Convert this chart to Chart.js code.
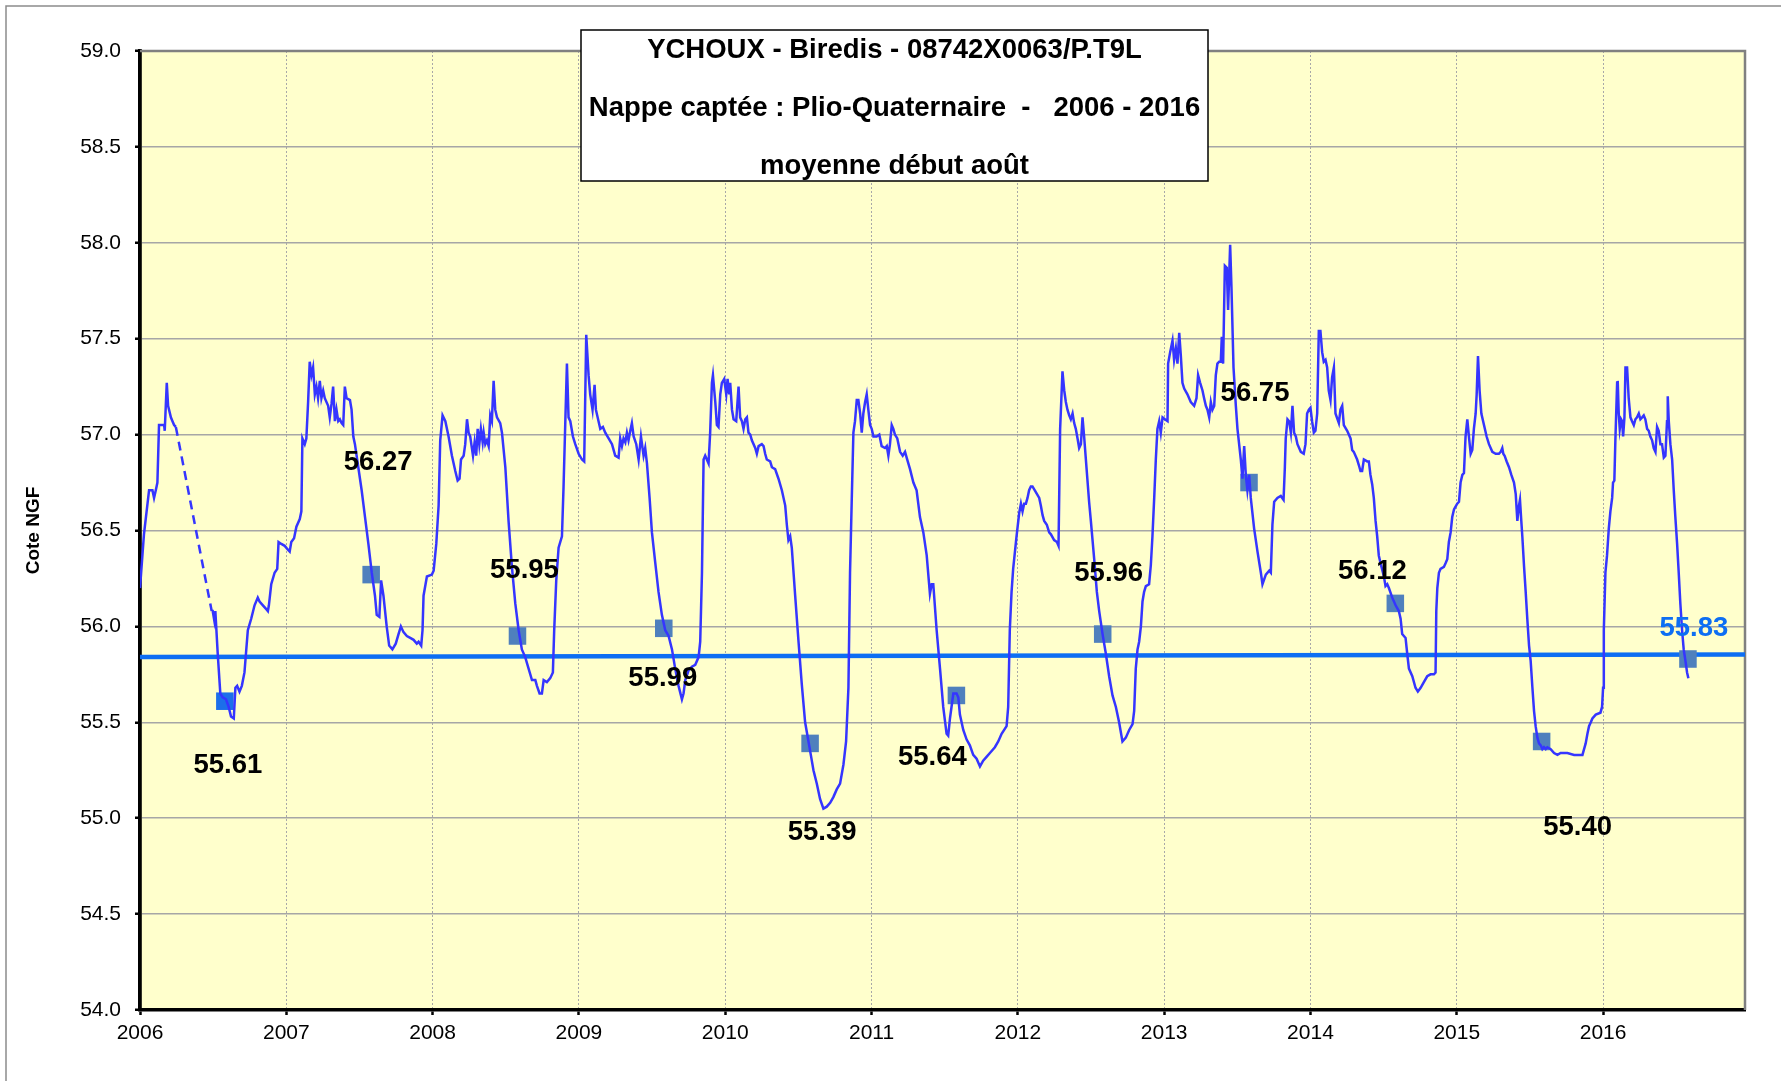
<!DOCTYPE html>
<html>
<head>
<meta charset="utf-8">
<style>
html,body{margin:0;padding:0;background:#fff;}
#wrap{position:relative;width:1781px;height:1081px;}
</style>
<script src="https://cdn.jsdelivr.net/npm/chart.js@4.4.1/dist/chart.umd.min.js"></script>
</head>
<body>
<div id="wrap"><canvas id="c" width="1781" height="1081"></canvas></div>
<script>
// ---------- texts ----------
const TITLE_LINES = [
  'YCHOUX - Biredis - 08742X0063/P.T9L',
  'Nappe captée : Plio-Quaternaire  -   2006 - 2016',
  'moyenne début août'
];
const Y_TITLE = 'Cote NGF';

// ---------- axes ----------
const YEAR_TICKS = [2006, 2007, 2008, 2009, 2010, 2011, 2012, 2013, 2014, 2015, 2016];
const LEVEL_TICKS = [54.0, 54.5, 55.0, 55.5, 56.0, 56.5, 57.0, 57.5, 58.0, 58.5, 59.0];
const X_MIN = 2006, X_MAX = 2016.97;

// ---------- piezometric level (decimal year / m NGF) ----------
const LEVEL_DATES = [
  2006.000,2006.027,2006.062,2006.085,2006.096,2006.108,2006.119,2006.130,2006.165,2006.169,2006.183,2006.192,2006.211,2006.222,2006.233,2006.245,
  2006.490,2006.497,2006.508,2006.515,2006.531,2006.549,2006.565,2006.588,2006.606,2006.622,2006.641,2006.652,2006.664,2006.680,2006.696,2006.714,
  2006.737,2006.760,2006.783,2006.805,2006.817,2006.840,2006.863,2006.874,2006.881,2006.897,2006.920,2006.938,2006.947,2006.966,2006.989,
  2007.011,2007.023,2007.034,2007.053,2007.069,2007.092,2007.103,2007.110,2007.126,2007.137,2007.149,2007.160,2007.172,2007.183,2007.195,2007.206,
  2007.217,2007.229,2007.240,2007.252,2007.263,2007.286,2007.297,2007.309,2007.320,2007.332,2007.343,2007.355,2007.366,2007.378,2007.389,2007.400,
  2007.412,2007.435,2007.446,2007.458,2007.469,2007.492,2007.515,2007.538,2007.561,2007.584,2007.606,2007.618,2007.636,2007.648,2007.664,2007.686,
  2007.703,2007.725,2007.748,2007.767,2007.783,2007.801,2007.824,2007.847,2007.870,2007.892,2007.904,2007.922,2007.931,2007.938,2007.961,2007.995,
  2008.007,2008.025,2008.041,2008.052,2008.068,2008.087,2008.109,2008.132,2008.155,2008.171,2008.184,2008.194,2008.212,2008.223,2008.235,2008.246,
  2008.257,2008.276,2008.287,2008.298,2008.308,2008.319,2008.330,2008.342,2008.349,2008.360,2008.371,2008.383,2008.394,2008.405,2008.417,2008.428,
  2008.440,2008.462,2008.474,2008.497,2008.519,2008.542,2008.565,2008.588,2008.610,2008.633,2008.656,2008.679,2008.702,2008.713,2008.731,2008.747,
  2008.759,2008.781,2008.804,2008.822,2008.831,2008.845,2008.861,2008.884,2008.895,2008.907,2008.918,2008.929,2008.941,2008.959,2008.975,2008.998,
  2009.021,2009.036,2009.050,2009.066,2009.077,2009.093,2009.107,2009.116,2009.134,2009.146,2009.164,2009.180,2009.203,2009.226,2009.248,2009.271,
  2009.282,2009.294,2009.305,2009.317,2009.328,2009.339,2009.351,2009.362,2009.374,2009.392,2009.408,2009.424,2009.442,2009.453,2009.465,2009.483,
  2009.499,2009.522,2009.544,2009.567,2009.590,2009.613,2009.636,2009.658,2009.681,2009.704,2009.715,2009.727,2009.749,2009.772,2009.795,2009.818,
  2009.829,2009.841,2009.852,2009.863,2009.886,2009.897,2009.909,2009.916,2009.932,2009.943,2009.954,2009.966,2009.977,2009.993,
  2010.007,2010.016,2010.027,2010.034,2010.046,2010.057,2010.075,2010.091,2010.102,2010.114,2010.125,2010.137,2010.148,2010.159,2010.171,2010.182,
  2010.205,2010.216,2010.228,2010.250,2010.262,2010.273,2010.284,2010.307,2010.319,2010.341,2010.364,2010.387,2010.410,2010.421,2010.432,2010.444,
  2010.455,2010.478,2010.501,2010.523,2010.546,2010.569,2010.585,2010.603,2010.626,2010.648,2010.671,2010.694,2010.717,2010.739,2010.762,2010.785,
  2010.808,2010.826,2010.842,2010.853,2010.865,2010.876,2010.887,2010.899,2010.910,2010.922,2010.933,2010.944,2010.956,2010.967,2010.978,2010.990,
  2011.001,2011.013,2011.035,2011.053,2011.069,2011.092,2011.104,2011.115,2011.126,2011.138,2011.149,2011.160,2011.176,2011.195,2011.213,2011.229,
  2011.240,2011.263,2011.286,2011.308,2011.331,2011.354,2011.377,2011.399,2011.411,2011.422,2011.445,2011.468,2011.490,2011.513,2011.524,2011.536,
  2011.559,2011.581,2011.593,2011.604,2011.627,2011.650,2011.672,2011.695,2011.718,2011.741,2011.763,2011.786,2011.809,2011.843,2011.866,2011.889,
  2011.923,2011.934,2011.945,2011.957,2011.968,2011.991,
  2012.009,2012.021,2012.032,2012.043,2012.055,2012.066,2012.077,2012.089,2012.100,2012.123,2012.146,2012.157,2012.169,2012.180,2012.198,2012.214,
  2012.226,2012.248,2012.267,2012.278,2012.289,2012.305,2012.317,2012.328,2012.339,2012.351,2012.362,2012.374,2012.385,2012.396,2012.408,2012.419,
  2012.431,2012.442,2012.453,2012.465,2012.487,2012.499,2012.522,2012.540,2012.556,2012.579,2012.601,2012.624,2012.647,2012.670,2012.692,2012.715,
  2012.738,2012.761,2012.784,2012.795,2012.806,2012.818,2012.829,2012.841,2012.852,2012.863,2012.875,2012.897,2012.909,2012.920,2012.932,2012.943,
  2012.954,2012.966,2012.977,2012.989,
  2013.005,2013.023,2013.027,2013.041,2013.057,2013.068,2013.080,2013.091,2013.103,2013.114,2013.125,2013.137,2013.159,2013.182,2013.205,2013.221,
  2013.232,2013.246,2013.262,2013.273,2013.285,2013.296,2013.308,2013.319,2013.330,2013.342,2013.353,2013.364,2013.376,2013.387,2013.394,2013.403,
  2013.415,2013.428,2013.437,2013.451,2013.460,2013.474,2013.490,2013.501,2013.524,2013.535,2013.547,2013.558,2013.569,2013.581,2013.592,2013.615,
  2013.638,2013.661,2013.672,2013.695,2013.718,2013.729,2013.740,2013.752,2013.774,2013.797,2013.816,2013.825,2013.831,2013.843,2013.854,2013.866,
  2013.877,2013.888,2013.900,2013.911,2013.934,2013.954,2013.966,2013.977,2013.989,
  2014.000,2014.011,2014.023,2014.034,2014.046,2014.057,2014.068,2014.080,2014.091,2014.103,2014.114,2014.125,2014.137,2014.148,2014.160,2014.171,
  2014.194,2014.205,2014.217,2014.228,2014.251,2014.274,2014.285,2014.296,2014.319,2014.331,2014.342,2014.353,2014.365,2014.388,2014.399,2014.410,
  2014.422,2014.433,2014.445,2014.456,2014.467,2014.479,2014.502,2014.513,2014.525,2014.536,2014.559,2014.582,2014.604,2014.616,2014.627,2014.650,
  2014.661,2014.673,2014.696,2014.718,2014.734,2014.753,2014.775,2014.798,2014.821,2014.844,2014.855,2014.860,2014.867,2014.878,2014.889,2014.912,
  2014.924,2014.935,2014.946,2014.958,2014.969,2014.981,
  2015.003,2015.015,2015.026,2015.038,2015.049,2015.060,2015.072,2015.083,2015.095,2015.106,2015.117,2015.129,2015.136,2015.145,2015.156,2015.168,
  2015.186,2015.204,2015.220,2015.243,2015.266,2015.288,2015.300,2015.311,2015.318,2015.327,2015.341,2015.357,2015.373,2015.391,2015.403,2015.414,
  2015.425,2015.432,2015.441,2015.448,2015.460,2015.471,2015.482,2015.494,2015.505,2015.517,2015.528,2015.539,2015.551,2015.562,2015.574,2015.585,
  2015.596,2015.608,2015.619,2015.642,2015.665,2015.688,2015.710,2015.756,2015.802,2015.859,2015.870,2015.881,2015.893,2015.904,2015.916,2015.927,
  2015.950,2015.982,2015.993,
  2016.000,2016.005,2016.016,2016.027,2016.039,2016.050,2016.062,2016.068,2016.077,2016.084,2016.096,2016.100,2016.107,2016.114,2016.123,2016.130,
  2016.137,2016.146,2016.153,2016.164,2016.175,2016.187,2016.198,2016.210,2016.221,2016.232,2016.244,2016.255,2016.267,2016.278,2016.289,2016.301,
  2016.312,2016.323,2016.335,2016.346,2016.358,2016.369,2016.380,2016.392,2016.403,2016.415,2016.426,2016.437,2016.442,2016.449,2016.460,2016.472,
  2016.483,2016.494,2016.506,2016.517,2016.528,2016.540,2016.551,2016.563,2016.574,2016.583
];
const LEVEL_VALUES = [
  56.20,56.48,56.71,56.71,56.67,56.71,56.75,57.05,57.05,57.02,57.27,57.15,57.09,57.07,57.05,57.04,
  56.08,56.08,56.03,56.08,55.86,55.65,55.63,55.62,55.58,55.53,55.52,55.68,55.69,55.66,55.69,55.76,
  55.98,56.04,56.11,56.15,56.13,56.11,56.09,56.08,56.11,56.22,56.28,56.30,56.44,56.43,56.42,
  56.40,56.39,56.44,56.46,56.52,56.56,56.60,56.98,56.95,56.98,57.17,57.38,57.31,57.35,57.21,57.25,
  57.19,57.28,57.19,57.23,57.19,57.15,57.09,57.16,57.25,57.07,57.13,57.07,57.08,57.06,57.05,57.25,
  57.19,57.18,57.13,56.99,56.95,56.83,56.71,56.57,56.43,56.28,56.16,56.06,56.05,56.24,56.16,56.00,
  55.90,55.88,55.91,55.96,56.00,55.97,55.95,55.94,55.93,55.91,55.92,55.90,55.98,56.16,56.26,56.27,
  56.29,56.43,56.63,56.97,57.10,57.07,56.99,56.89,56.81,56.76,56.77,56.87,56.89,56.95,57.08,57.01,
  56.99,56.89,56.96,56.89,57.03,56.95,57.03,56.96,57.01,56.95,56.97,56.94,57.10,57.07,57.28,57.13,
  57.09,57.06,57.01,56.83,56.55,56.31,56.12,55.98,55.88,55.84,55.78,55.72,55.72,55.69,55.65,55.65,
  55.72,55.71,55.73,55.76,55.98,56.24,56.41,56.47,56.73,57.07,57.37,57.09,57.07,56.99,56.95,56.90,
  56.87,56.86,57.52,57.31,57.21,57.13,57.26,57.13,57.07,57.03,57.04,57.01,56.98,56.95,56.89,56.88,
  56.98,56.94,56.98,56.96,57.01,56.97,57.02,57.06,56.99,56.95,56.87,56.99,56.89,56.93,56.85,56.67,
  56.49,56.33,56.18,56.06,55.98,55.95,55.88,55.78,55.69,55.62,55.65,55.72,55.77,55.79,55.80,55.84,
  55.92,56.28,56.87,56.89,56.85,57.01,57.27,57.31,57.17,57.05,57.04,57.21,57.27,57.29,
  57.21,57.29,57.21,57.27,57.13,57.08,57.07,57.25,57.09,57.07,57.03,57.08,57.09,57.01,57.00,56.97,
  56.93,56.90,56.94,56.95,56.94,56.90,56.87,56.86,56.83,56.82,56.77,56.71,56.63,56.53,56.45,56.47,
  56.41,56.16,55.92,55.70,55.50,55.40,55.33,55.25,55.18,55.10,55.05,55.06,55.08,55.11,55.15,55.18,
  55.28,55.40,55.68,56.28,56.67,57.01,57.07,57.18,57.18,57.11,57.01,57.11,57.17,57.21,57.13,57.05,
  57.03,56.99,56.99,57.00,56.94,56.93,56.94,56.89,56.95,57.05,57.03,57.00,56.98,56.91,56.89,56.91,
  56.88,56.82,56.75,56.71,56.57,56.49,56.37,56.17,56.22,56.22,55.98,55.78,55.58,55.44,55.43,55.52,
  55.65,55.65,55.63,55.54,55.46,55.41,55.38,55.33,55.31,55.27,55.30,55.32,55.34,55.37,55.40,55.44,
  55.48,55.58,55.98,56.18,56.30,56.47,
  56.59,56.64,56.60,56.64,56.64,56.67,56.71,56.73,56.73,56.70,56.67,56.63,56.58,56.55,56.53,56.49,
  56.48,56.45,56.44,56.42,57.03,57.33,57.23,57.17,57.13,57.10,57.08,57.11,57.06,57.03,56.98,56.93,
  56.95,57.09,56.99,56.87,56.65,56.55,56.35,56.18,56.08,55.96,55.86,55.74,55.64,55.58,55.50,55.40,
  55.42,55.46,55.49,55.56,55.78,55.88,55.92,56.00,56.13,56.18,56.21,56.22,56.32,56.47,56.67,56.87,
  57.03,57.07,57.01,57.09,
  57.08,57.07,57.37,57.43,57.49,57.39,57.45,57.37,57.53,57.41,57.27,57.24,57.21,57.17,57.15,57.19,
  57.31,57.27,57.23,57.19,57.15,57.13,57.09,57.17,57.13,57.15,57.31,57.37,57.38,57.38,57.51,57.37,
  57.88,57.87,57.65,57.99,57.77,57.35,57.15,57.03,56.87,56.77,56.94,56.79,56.71,56.79,56.67,56.51,
  56.39,56.28,56.22,56.27,56.29,56.28,56.53,56.65,56.67,56.68,56.66,56.83,56.98,57.08,57.07,57.01,
  57.15,57.01,56.99,56.95,56.91,56.90,56.95,57.11,57.13,
  57.14,57.07,57.01,57.02,57.11,57.54,57.54,57.43,57.38,57.39,57.35,57.23,57.18,57.30,57.35,57.11,
  57.06,57.13,57.15,57.05,57.02,56.98,56.92,56.91,56.87,56.84,56.81,56.81,56.87,56.86,56.86,56.79,
  56.74,56.67,56.55,56.47,56.37,56.33,56.26,56.21,56.22,56.20,56.15,56.11,56.08,56.04,55.96,55.94,
  55.86,55.78,55.74,55.68,55.66,55.68,55.71,55.74,55.75,55.75,55.76,56.08,56.20,56.28,56.30,56.31,
  56.33,56.35,56.44,56.49,56.57,56.61,
  56.64,56.65,56.75,56.79,56.80,56.99,57.08,56.99,56.90,56.92,57.03,57.11,57.21,57.41,57.23,57.11,
  57.05,56.99,56.95,56.91,56.90,56.90,56.91,56.93,56.90,56.89,56.86,56.83,56.79,56.75,56.69,56.55,
  56.63,56.66,56.55,56.47,56.31,56.18,56.04,55.90,55.82,55.68,55.56,55.48,55.42,55.39,55.38,55.36,
  55.37,55.36,55.37,55.36,55.34,55.33,55.34,55.34,55.33,55.33,55.36,55.39,55.44,55.48,55.50,55.52,
  55.54,55.55,55.58,
  55.68,55.98,56.28,56.37,56.51,56.60,56.67,56.75,56.76,56.97,57.27,57.28,57.11,57.03,57.08,57.07,
  56.99,57.09,57.35,57.35,57.19,57.09,57.07,57.05,57.08,57.09,57.11,57.08,57.09,57.10,57.08,57.03,
  57.02,56.99,56.97,56.93,56.91,57.04,57.02,56.95,56.95,56.88,56.89,57.07,57.20,57.07,56.95,56.87,
  56.71,56.57,56.43,56.28,56.12,55.98,55.88,55.82,55.76,55.73
];

// ---------- early-August mean level (one per year) ----------
const AUGUST_DATES  = [2006.58, 2007.58, 2008.58, 2009.58, 2010.58, 2011.58, 2012.58, 2013.58, 2014.58, 2015.58, 2016.58];
const AUGUST_VALUES = [55.61, 56.27, 55.95, 55.99, 55.39, 55.64, 55.96, 56.75, 56.12, 55.40, 55.83];

// ---------- reference (mean) line ----------
const MEAN_DATES  = [2006.0, 2016.97];
const MEAN_VALUES = [55.840, 55.853];

// ---------- styling ----------
const FONT = '"Liberation Sans", Arial, Helvetica, sans-serif';
const LINE_COLOR = '#3535ff';
const MEAN_COLOR = '#0d6ef3';
const MARKER_COLOR = '#4f80bd';
const FIRST_MARKER_COLOR = '#1c6fea';
// label offsets from each August marker, in pixels [dx, dy]
const LABEL_OFFSETS = [[3,64],[7,-112],[7,-66],[-1,50],[12,89],[-24,62],[6,-61],[6,-89],[-23,-32],[36,86],[6,-31]];

Chart.defaults.font.family = FONT;

const levelPoints = LEVEL_DATES.map((d, i) => ({x: d, y: LEVEL_VALUES[i]}));
const augustPoints = AUGUST_DATES.map((d, i) => ({x: d, y: AUGUST_VALUES[i]}));
const meanPoints = MEAN_DATES.map((d, i) => ({x: d, y: MEAN_VALUES[i]}));

const framePlugin = {
  id: 'frame',
  beforeDraw(chart) {
    const {ctx, chartArea: a} = chart;
    ctx.save();
    ctx.fillStyle = '#ffffff';
    ctx.fillRect(0, 0, chart.width, chart.height);
    ctx.strokeStyle = '#8c8c8c';
    ctx.lineWidth = 1.5;
    ctx.beginPath();
    ctx.moveTo(6, chart.height);
    ctx.lineTo(6, 6);
    ctx.lineTo(chart.width, 6);
    ctx.stroke();
    ctx.fillStyle = '#FFFFCC';
    ctx.fillRect(a.left, a.top, a.right - a.left, a.bottom - a.top);
    ctx.restore();
  },
  beforeDatasetsDraw(chart) {
    const {ctx, chartArea: a} = chart;
    ctx.save();
    ctx.strokeStyle = '#808080';
    ctx.lineWidth = 2.5;
    ctx.beginPath();
    ctx.moveTo(a.left, a.top);
    ctx.lineTo(a.right, a.top);
    ctx.lineTo(a.right, a.bottom);
    ctx.stroke();
    ctx.restore();
  }
};

const labelPlugin = {
  id: 'augustLabels',
  afterDatasetsDraw(chart) {
    const {ctx} = chart;
    const xs = chart.scales.x, ys = chart.scales.y;
    ctx.save();
    ctx.font = 'bold 27.5px ' + FONT;
    ctx.textAlign = 'center';
    ctx.textBaseline = 'middle';
    AUGUST_VALUES.forEach((v, i) => {
      const [dx, dy] = LABEL_OFFSETS[i];
      ctx.fillStyle = (i === AUGUST_VALUES.length - 1) ? MEAN_COLOR : '#000000';
      ctx.fillText(v.toFixed(2), xs.getPixelForValue(AUGUST_DATES[i]) + dx, ys.getPixelForValue(v) + dy);
    });
    ctx.restore();
  }
};

const titleBoxPlugin = {
  id: 'titleBox',
  afterDraw(chart) {
    const {ctx} = chart;
    const bx = 581, by = 30, bw = 627, bh = 151;
    ctx.save();
    ctx.fillStyle = '#ffffff';
    ctx.fillRect(bx, by, bw, bh);
    ctx.strokeStyle = '#000000';
    ctx.lineWidth = 1.5;
    ctx.strokeRect(bx, by, bw, bh);
    ctx.fillStyle = '#000000';
    ctx.font = 'bold 27.5px ' + FONT;
    ctx.textAlign = 'center';
    ctx.textBaseline = 'middle';
    const ys = [50.5, 108.5, 166];
    TITLE_LINES.forEach((t, i) => ctx.fillText(t, bx + bw / 2, ys[i]));
    ctx.restore();
  }
};

new Chart(document.getElementById('c'), {
  type: 'scatter',
  data: {
    datasets: [
      {
        label: 'Niveau',
        data: levelPoints,
        showLine: true,
        borderColor: LINE_COLOR,
        borderWidth: 2.5,
        pointRadius: 0,
        tension: 0,
        order: 0,
        segment: {
          borderDash: ctx => (ctx.p1.parsed.x - ctx.p0.parsed.x > 0.1 ? [9, 6] : undefined)
        }
      },
      {
        label: 'Moyenne début août',
        data: augustPoints,
        showLine: false,
        pointStyle: 'rect',
        pointRadius: 12.4,
        pointHoverRadius: 12.4,
        pointBorderWidth: 0,
        pointBackgroundColor: ctx => (ctx.dataIndex === 0 ? FIRST_MARKER_COLOR : MARKER_COLOR),
        order: 1
      },
      {
        label: 'Moyenne',
        data: meanPoints,
        showLine: true,
        borderColor: MEAN_COLOR,
        borderWidth: 4.5,
        pointRadius: 0,
        order: 2,
        clip: 4
      }
    ]
  },
  options: {
    responsive: false,
    devicePixelRatio: 1,
    animation: false,
    events: [],
    layout: { padding: { left: 0, right: 36, top: 51, bottom: 0 } },
    plugins: {
      legend: { display: false },
      tooltip: { enabled: false },
      title: { display: false }
    },
    scales: {
      x: {
        type: 'linear',
        min: X_MIN,
        max: X_MAX,
        afterBuildTicks: s => { s.ticks = YEAR_TICKS.map(v => ({value: v})); },
        afterFit: s => { s.height = 71; },
        ticks: {
          callback: v => String(v),
          font: { size: 21 },
          color: '#000000',
          padding: 6,
          maxRotation: 0,
          autoSkip: false
        },
        grid: {
          color: '#a8a8a8',
          lineWidth: 1,
          drawTicks: true,
          tickLength: 5,
          tickColor: '#000000',
          tickWidth: 2.5
        },
        border: { color: '#000000', width: 3.5, dash: [2, 2] }
      },
      y: {
        type: 'linear',
        min: 54,
        max: 59,
        afterBuildTicks: s => { s.ticks = LEVEL_TICKS.map(v => ({value: v})); },
        afterFit: s => { s.width = 140; },
        ticks: {
          callback: v => Number(v).toFixed(1),
          font: { size: 21 },
          color: '#000000',
          padding: 14
        },
        grid: {
          color: '#a6a6a6',
          lineWidth: 1.5,
          drawTicks: true,
          tickLength: 5,
          tickColor: '#000000',
          tickWidth: 2.5
        },
        border: { color: '#000000', width: 3.8 },
        title: {
          display: true,
          text: Y_TITLE,
          color: '#000000',
          font: { size: 19, weight: 'bold' },
          padding: { top: 22, bottom: 0 }
        }
      }
    }
  },
  plugins: [framePlugin, labelPlugin, titleBoxPlugin]
});
</script>
</body>
</html>
